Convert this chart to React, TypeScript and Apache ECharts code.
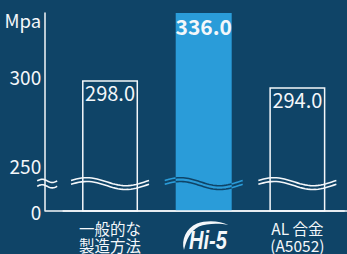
import React, { useEffect, useRef } from "react";
import * as echarts from "echarts";

// ---- data ----
const categories = ["一般的な\n製造方法", "Hi-5", "AL 合金\n(A5052)"];
const strengths = [298.0, 336.0, 294.0];
const highlightIndex = 1;
// broken y axis: the axis minimum is shown as "0"
const yTickValues = [224, 250, 300];
const yTickLabels = ["0", "250", "300"];
const yMin = 224;
const yMax = 336;
const breakValue = 239.5;
const unitName = "Mpa";

// ---- style ----
const BG = "#0f4467";
const BLUE = "#2a9cd9";
const WHITE = "#f4f7fa";
const FONT = "'Noto Sans CJK JP', 'Noto Sans', sans-serif";
const BAR_W = 56;
const Y_OFFSET = 18;

const SWOOSH_D =
  "M184 250 C181 240 186 228 197 223.5 C206 220 220 220.5 228.5 225 C220 223 207 223 199 226.5 C190 231 186.5 240 184 250 Z";

let registered = false;
function registerShapes() {
  if (registered) return;
  registered = true;
  echarts.graphic.registerShape("swoosh", echarts.graphic.extendPath(SWOOSH_D, {}) as any);
}

function wavePoints(xa: number, xb: number, x0: number, x1: number, cy: number, amp: number, phase: number) {
  const pts: number[][] = [];
  const n = 30;
  for (let k = 0; k <= n; k++) {
    const x = xa + ((xb - xa) * k) / n;
    const t = (x - x0) / (x1 - x0);
    pts.push([x, cy - amp * Math.sin(2 * Math.PI * t + phase)]);
  }
  return pts;
}

export default function App() {
  const ref = useRef<HTMLDivElement>(null);
  useEffect(() => {
    if (!ref.current) return;
    registerShapes();
    const chart = echarts.init(ref.current, undefined, { renderer: "svg" });

    const barData = strengths.map((v, i) =>
      i === highlightIndex
        ? {
            value: v,
            itemStyle: { color: BLUE, borderWidth: 0 },
            label: { fontSize: 21, fontWeight: "bold" as const },
          }
        : {
            value: v,
            itemStyle: { color: "transparent", borderColor: WHITE, borderWidth: 1.5 },
          }
    );

    const option: any = {
      animation: false,
      backgroundColor: BG,
      textStyle: { fontFamily: FONT },
      grid: {
        left: 63.2,
        right: 2.8,
        top: 13,
        bottom: 43,
        containLabel: false,
        outerBoundsMode: "none",
      },
      xAxis: {
        type: "category",
        data: categories,
        axisTick: { show: false },
        axisLine: { show: true, lineStyle: { color: WHITE, width: 1.5 } },
        axisLabel: {
          interval: 0,
          color: WHITE,
          fontFamily: FONT,
          fontSize: 15.5,
          lineHeight: 17.5,
          margin: 8,
          // the middle category is drawn as the Hi-5 logo (graphic below)
          formatter: (v: string, i: number) => (i === highlightIndex ? "" : v),
        },
      },
      yAxis: {
        type: "value",
        min: yMin,
        max: yMax,
        offset: Y_OFFSET,
        name: unitName,
        nameLocation: "end",
        nameGap: -7,
        nameTextStyle: {
          color: WHITE,
          fontFamily: FONT,
          fontSize: 18.5,
          align: "right",
          verticalAlign: "middle",
          padding: [0, 4, 0, 0],
        },
        axisLine: { show: true, lineStyle: { color: WHITE, width: 1.5 } },
        axisTick: { show: false },
        splitLine: { show: false },
        axisLabel: {
          color: WHITE,
          fontFamily: FONT,
          fontSize: 19,
          margin: 4,
          customValues: yTickValues,
          formatter: (v: number) => {
            const k = yTickValues.indexOf(v);
            return k >= 0 ? yTickLabels[k] : "";
          },
        },
      },
      series: [
        {
          type: "bar",
          data: barData,
          barWidth: BAR_W,
          label: {
            show: true,
            position: "insideTop",
            distance: 2,
            color: WHITE,
            fontFamily: FONT,
            fontSize: 20,
            formatter: (p: any) => Number(p.value).toFixed(1),
          },
        },
        {
          // wavy break marks across each bar
          type: "custom",
          z: 5,
          silent: true,
          data: categories.map((_, i) => [i, breakValue]),
          renderItem: (params: any, api: any) => {
            const i = api.value(0);
            const p = api.coord([i, api.value(1)]);
            const half = BAR_W / 2;
            const ext = 11;
            const x0 = p[0] - half - ext;
            const x1 = p[0] + half + ext;
            const amp = 4;
            const gap = 3.8;
            const children: any[] = [];
            [-gap / 2, gap / 2].forEach((off) => {
              const cy = p[1] + off;
              const segs =
                i === highlightIndex
                  ? [
                      [x0, p[0] - half, BLUE],
                      [p[0] - half, p[0] + half, BG],
                      [p[0] + half, x1, BLUE],
                    ]
                  : [[x0, x1, WHITE]];
              segs.forEach((s: any) => {
                children.push({
                  type: "polyline",
                  shape: { points: wavePoints(s[0], s[1], x0, x1, cy, amp, 0.3) },
                  style: { stroke: s[2], lineWidth: 1.6, fill: null },
                });
              });
            });
            return { type: "group", children };
          },
        },
        {
          // break mark on the y axis and full-width baseline
          type: "custom",
          z: 5,
          silent: true,
          data: [[0, breakValue]],
          renderItem: (params: any, api: any) => {
            const p = api.coord([0, api.value(1)]);
            const cs = params.coordSys;
            const ax = cs.x - Y_OFFSET;
            const baseY = cs.y + cs.height;
            const xa = ax - 8;
            const xb = ax + 12;
            const children: any[] = [
              {
                type: "line",
                shape: { x1: ax, y1: baseY, x2: api.getWidth(), y2: baseY },
                style: { stroke: WHITE, lineWidth: 1.5 },
              },
            ];
            [-2.7, 2.7].forEach((off) => {
              children.push({
                type: "polyline",
                shape: { points: wavePoints(xa, xb, xa, xb, p[1] + off, 1.6, 0) },
                style: { stroke: WHITE, lineWidth: 1.6, fill: null },
              });
            });
            return { type: "group", children };
          },
        },
      ],
      graphic: [
        {
          type: "swoosh",
          x: 0,
          y: 0,
          silent: true,
          style: { fill: WHITE },
        },
        {
          type: "text",
          x: 208,
          y: 240.5,
          scaleX: 0.8,
          silent: true,
          style: {
            text: categories[highlightIndex],
            fill: WHITE,
            font: "italic bold 25px 'Liberation Sans', Arial, sans-serif",
            align: "center",
            verticalAlign: "middle",
          },
        },
      ],
    };

    chart.setOption(option);
    return () => chart.dispose();
  }, []);

  return (
    <div
      ref={ref}
      style={{ position: "fixed", left: 0, top: 0, width: 347, height: 254, background: BG }}
    />
  );
}
